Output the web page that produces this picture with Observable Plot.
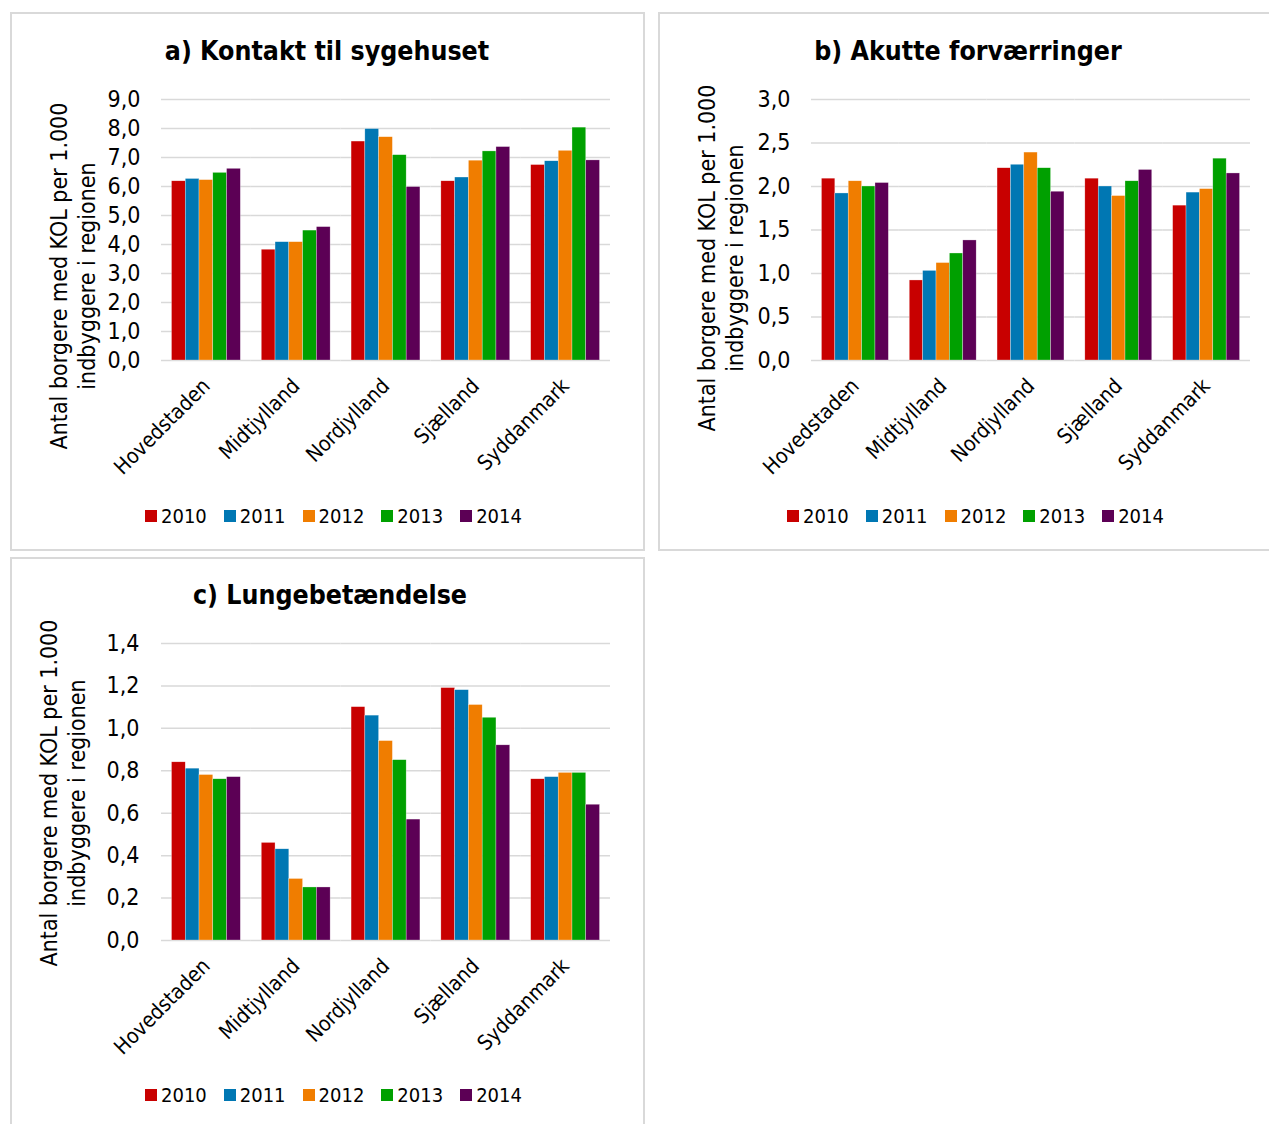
<!DOCTYPE html>
<html><head><meta charset="utf-8">
<script src="https://cdn.jsdelivr.net/npm/d3@7"></script>
<script src="https://cdn.jsdelivr.net/npm/@observablehq/plot@0.6"></script>
<style>
body{margin:0;background:#fff;}
#root{position:relative;width:1269px;height:1124px;overflow:hidden;font-family:"DejaVu Sans Condensed","DejaVu Sans",sans-serif;font-stretch:condensed;color:#000}
.panel{position:absolute;border:2px solid #d9d9d9;box-sizing:border-box;background:#fff}
.title{position:absolute;transform:translate(-50%,-50%);font-weight:bold;font-size:26.5px;white-space:nowrap}
.ytitle{position:absolute;transform:translate(-50%,-50%) rotate(-90deg);font-size:23px;line-height:28px;text-align:center;white-space:nowrap}
.legend{position:absolute;display:flex;align-items:center;font-size:20px;transform:translateY(-50%)}
.legend .item{display:flex;align-items:center;margin-right:17px}
.legend .sw{width:12px;height:12px;margin-right:4px}
.chart{position:absolute}
.chart [aria-label^="y-axis"] text{font-size:23px}
</style></head>
<body><div id="root"></div>
<script>
// ---- data ----
const regions = ["Hovedstaden", "Midtjylland", "Nordjylland", "Sjælland", "Syddanmark"];
const years = ["2010", "2011", "2012", "2013", "2014"];
const colors = ["#c80000", "#0077b3", "#f07d00", "#00a000", "#5c0055"];

// values per year (rows) across regions (columns)
const kontaktTilSygehuset = [
  [6.18, 3.82, 7.55, 6.18, 6.74],
  [6.26, 4.08, 7.98, 6.31, 6.87],
  [6.22, 4.08, 7.70, 6.89, 7.23],
  [6.47, 4.48, 7.08, 7.21, 8.03],
  [6.61, 4.60, 5.98, 7.36, 6.90]
];
const akutteForvaerringer = [
  [2.09, 0.92, 2.21, 2.09, 1.78],
  [1.92, 1.03, 2.25, 2.00, 1.93],
  [2.06, 1.12, 2.39, 1.89, 1.97],
  [2.00, 1.23, 2.21, 2.06, 2.32],
  [2.04, 1.38, 1.94, 2.19, 2.15]
];
const lungebetaendelse = [
  [0.84, 0.46, 1.10, 1.19, 0.76],
  [0.81, 0.43, 1.06, 1.18, 0.77],
  [0.78, 0.29, 0.94, 1.11, 0.79],
  [0.76, 0.25, 0.85, 1.05, 0.79],
  [0.77, 0.25, 0.57, 0.92, 0.64]
];
const ticksA = [0, 1, 2, 3, 4, 5, 6, 7, 8, 9];
const ticksB = [0, 0.5, 1, 1.5, 2, 2.5, 3];
const ticksC = [0, 0.2, 0.4, 0.6, 0.8, 1.0, 1.2, 1.4];
const titles = ["a) Kontakt til sygehuset", "b) Akutte forværringer", "c) Lungebetændelse"];
const yTitleLines = ["Antal borgere med KOL per 1.000", "indbyggere i regionen"];

// ---- rendering ----
const FONT = '"DejaVu Sans Condensed","DejaVu Sans",sans-serif';
const fmt = d => d.toFixed(1).replace(".", ",");
const root = document.getElementById("root");

function el(cls, css, html) {
  const d = document.createElement("div");
  d.className = cls;
  Object.assign(d.style, css);
  if (html != null) d.innerHTML = html;
  root.appendChild(d);
  return d;
}

function makeChart(values, yTicks, c) {
  const rows = [];
  years.forEach((y, j) => regions.forEach((r, i) => rows.push({region: r, year: y, value: values[j][i]})));
  return Plot.plot({
    width: c.w, height: c.h,
    marginLeft: c.ml, marginRight: c.mr, marginTop: c.mt, marginBottom: c.mb,
    style: {fontFamily: FONT, fontStretch: "condensed", fontSize: "21px", color: "#000", background: "transparent", overflow: "visible"},
    facet: {data: rows, x: "region"},
    fx: {domain: regions, axis: "bottom", padding: 0, round: false, label: null, tickSize: 0, tickPadding: 22, tickRotate: -45},
    x: {domain: years, paddingInner: 0, paddingOuter: c.po, round: false, axis: null},
    y: {domain: [0, yTicks[yTicks.length - 1]], ticks: yTicks, tickFormat: fmt, tickSize: 0, tickPadding: c.tp, label: null},
    color: {domain: years, range: colors},
    marks: [
      Plot.ruleY(yTicks, {stroke: "#d9d9d9", strokeWidth: 1.5}),
      Plot.barY(rows, {x: "year", y: "value", fill: "year", stroke: "white", strokeWidth: 0.5, strokeOpacity: 0.6})
    ]
  });
}

function legend(x, y) {
  const lg = el("legend", {left: x + "px", top: y + "px"});
  years.forEach((yr, i) => {
    const it = document.createElement("div");
    it.className = "item";
    it.innerHTML = `<div class="sw" style="background:${colors[i]}"></div><span>${yr}</span>`;
    lg.appendChild(it);
  });
}

const panels = [
  {box: [10, 12, 635, 539], values: kontaktTilSygehuset, ticks: ticksA, title: [327, 50],
   yt: [73, 276], chart: {left: 10, top: 80, w: 630, h: 400, ml: 151, mr: 30, mt: 19, mb: 120, tp: 21, po: 0.76}, lg: [145, 516]},
  {box: [658, 12, 620, 539], values: akutteForvaerringer, ticks: ticksB, title: [968, 50],
   yt: [721, 258], chart: {left: 658, top: 80, w: 611, h: 400, ml: 153, mr: 19, mt: 19, mb: 120, tp: 21, po: 0.78}, lg: [787, 516]},
  {box: [10, 557, 635, 580], values: lungebetaendelse, ticks: ticksC, title: [330, 594],
   yt: [63, 793], chart: {left: 10, top: 620, w: 630, h: 440, ml: 151, mr: 30, mt: 23, mb: 120, tp: 22, po: 0.76}, lg: [145, 1095]}
];

panels.forEach((p, k) => {
  el("panel", {left: p.box[0] + "px", top: p.box[1] + "px", width: p.box[2] + "px", height: p.box[3] + "px"});
  const holder = el("chart", {left: p.chart.left + "px", top: p.chart.top + "px"});
  holder.appendChild(makeChart(p.values, p.ticks, p.chart));
  el("title", {left: p.title[0] + "px", top: p.title[1] + "px"}, titles[k]);
  el("ytitle", {left: p.yt[0] + "px", top: p.yt[1] + "px"}, yTitleLines.join("<br>"));
  legend(p.lg[0], p.lg[1]);
});
</script></body></html>
